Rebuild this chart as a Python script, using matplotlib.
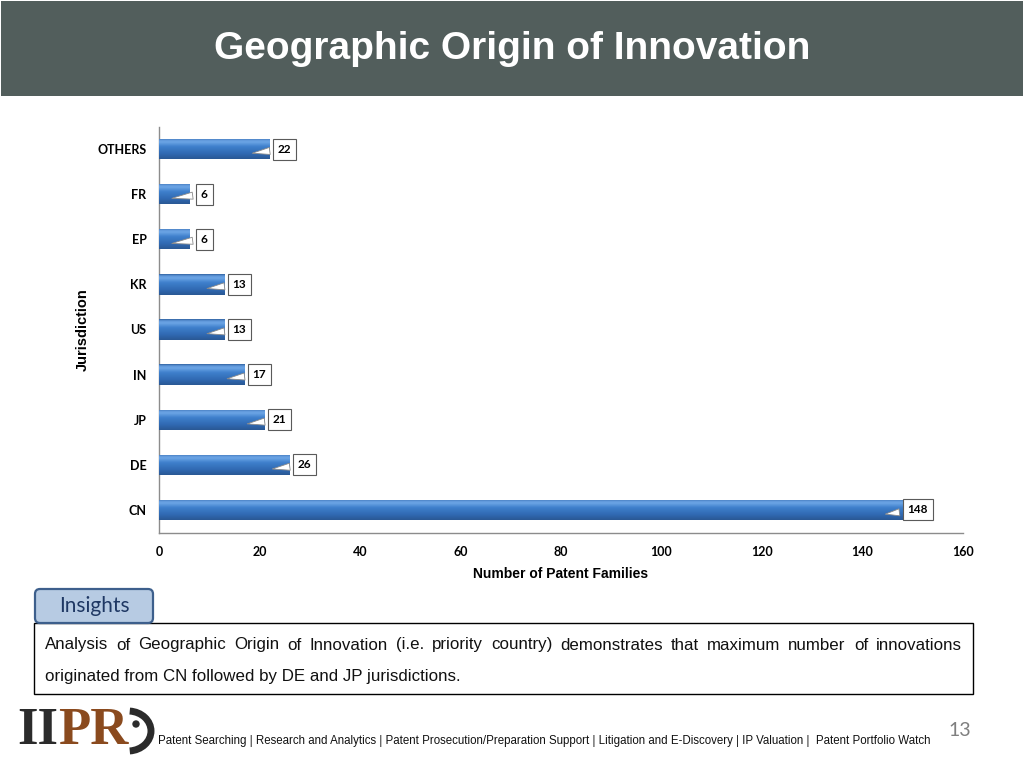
"""Geographic Origin of Innovation - horizontal bar slide."""
import numpy as np
import matplotlib
matplotlib.use("Agg")
import matplotlib.pyplot as plt
from matplotlib.colors import LinearSegmentedColormap
from matplotlib.patches import Rectangle, FancyBboxPatch, Arc, Circle

# ---- data ----
jurisdictions = ["CN", "DE", "JP", "IN", "US", "KR", "EP", "FR", "OTHERS"]
families = [148, 26, 21, 17, 13, 13, 6, 6, 22]
x_ticks = [0, 20, 40, 60, 80, 100, 120, 140, 160]

title = "Geographic Origin of Innovation"
insight_line1 = ("Analysis of Geographic Origin of Innovation (i.e. priority country) "
                 "demonstrates that maximum number of innovations")
insight_line2 = "originated from CN followed by DE and JP jurisdictions."
footer = ("Patent Searching | Research and Analytics | Patent Prosecution/Preparation Support"
          " | Litigation and E-Discovery | IP Valuation |  Patent Portfolio Watch")

W, H = 1024, 768
fig = plt.figure(figsize=(W / 100, H / 100), dpi=100)
fig.patch.set_facecolor("white")

# ---- chart ----
ax = fig.add_axes([159 / W, 1 - 532.5 / H, 804 / W, 406 / H])
y = list(range(len(jurisdictions)))
bh = 0.45
bars = ax.barh(y, families, height=bh, color="#3A78C4", lw=0, zorder=2)

# vertical gradient inside each bar (bottom -> top)
grad_cmap = LinearSegmentedColormap.from_list(
    "bar", [(0.0, "#2A5894"), (0.25, "#3069B2"), (0.6, "#3F80CC"),
            (0.82, "#6DA6E6"), (0.93, "#5C95D8"), (1.0, "#2E5E9C")])
grad = np.linspace(0, 1, 64).reshape(-1, 1)
for b in bars:
    x0, y0 = b.get_x(), b.get_y()
    im = ax.imshow(grad, cmap=grad_cmap, origin="lower", aspect="auto",
                   extent=(x0, x0 + b.get_width(), y0, y0 + b.get_height()),
                   zorder=3, interpolation="bicubic")
    im.set_clip_path(b)

for yi, v in zip(y, families):
    ax.annotate(str(v), xy=(v - 4.0, yi - 0.1), xytext=(v + 3.0, yi),
                textcoords="data", ha="center", va="center",
                fontsize=8.5, fontweight="bold", family="Lato", color="black",
                bbox=dict(boxstyle="square,pad=0.42", fc="white", ec="#5A5A5A", lw=0.8),
                arrowprops=dict(arrowstyle="wedge,tail_width=0.6,shrink_factor=0.5",
                                fc="white", ec="#8A8A8A", lw=0.6),
                zorder=6)

ax.set_xlim(0, 160)
ax.set_ylim(-0.5, len(jurisdictions) - 0.5)
ax.set_xticks(x_ticks)
ax.set_xticklabels([str(t) for t in x_ticks], fontsize=9, fontweight="bold", family="Lato")
ax.set_yticks(y)
ax.set_yticklabels(jurisdictions, fontsize=9, fontweight="bold", family="Lato")
ax.tick_params(axis="x", length=0, pad=10)
ax.tick_params(axis="y", length=0, pad=9)
for s in ["top", "right"]:
    ax.spines[s].set_visible(False)
for s in ["left", "bottom"]:
    ax.spines[s].set_color("#8C8C8C")
    ax.spines[s].set_linewidth(1.0)
ax.set_xlabel("Number of Patent Families", fontsize=10, fontweight="bold",
              family="Liberation Sans", labelpad=6)
ax.set_ylabel("Jurisdiction", fontsize=10.5, fontweight="bold",
              family="Liberation Sans", labelpad=5)

# ---- slide decorations in pixel coordinates ----
ov = fig.add_axes([0, 0, 1, 1], zorder=-1)
ov.set_xlim(0, W)
ov.set_ylim(H, 0)
ov.axis("off")
ov.add_patch(Rectangle((1, 1), 1022, 95, fc="#525E5C", ec="none"))
ov.text(512, 49, title, ha="center", va="center", color="white",
        fontsize=28, fontweight="bold", family="Liberation Sans")

ov2 = fig.add_axes([0, 0, 1, 1])
ov2.set_xlim(0, W)
ov2.set_ylim(H, 0)
ov2.axis("off")
ov2.patch.set_alpha(0)

ov2.add_patch(Rectangle((34, 623), 939, 71, fc="white", ec="black", lw=1.0))
ov2.add_patch(FancyBboxPatch((35, 589), 118, 34, boxstyle="round,pad=0,rounding_size=5",
                             fc="#B7CBE3", ec="#3D5F8C", lw=1.6))
ov2.text(94, 606, "Insights", ha="center", va="center", fontsize=15,
         family="Lato", color="#1F3864")

# justified first line
fig.canvas.draw()
rend = fig.canvas.get_renderer()
words = insight_line1.split(" ")
tx = [ov2.text(0, 645, w, fontsize=12.2, family="Liberation Sans", va="center",
               color="#111111") for w in words]
widths = [t.get_window_extent(rend).width for t in tx]
left, right = 45, 962
gap = (right - left - sum(widths)) / (len(words) - 1)
xpos = left
for t, wd in zip(tx, widths):
    t.set_x(xpos)
    xpos += wd + gap
ov2.text(left, 676, insight_line2, fontsize=12.2, family="Liberation Sans",
         va="center", color="#111111")

# logo
ov2.text(17, 731, "II", fontsize=38, fontweight="bold", family="Liberation Serif",
         color="#2B2B2B", va="center", ha="left")
ov2.text(58, 731, "PR", fontsize=38, fontweight="bold", family="Liberation Serif",
         color="#8A4A1E", va="center", ha="left")
ov2.add_patch(Arc((128, 731), 46, 40, theta1=-85, theta2=85, lw=5, color="#2B2B2B"))
ov2.add_patch(Circle((136, 724), 3, color="#2B2B2B"))

ov2.text(158, 741, footer, fontsize=8.3, family="Liberation Sans", va="center",
         ha="left", color="#111111")
ov2.text(960, 731, "13", fontsize=14, family="Lato", va="center", ha="center",
         color="#7F7F7F")

fig.savefig("out.png", dpi=100)
